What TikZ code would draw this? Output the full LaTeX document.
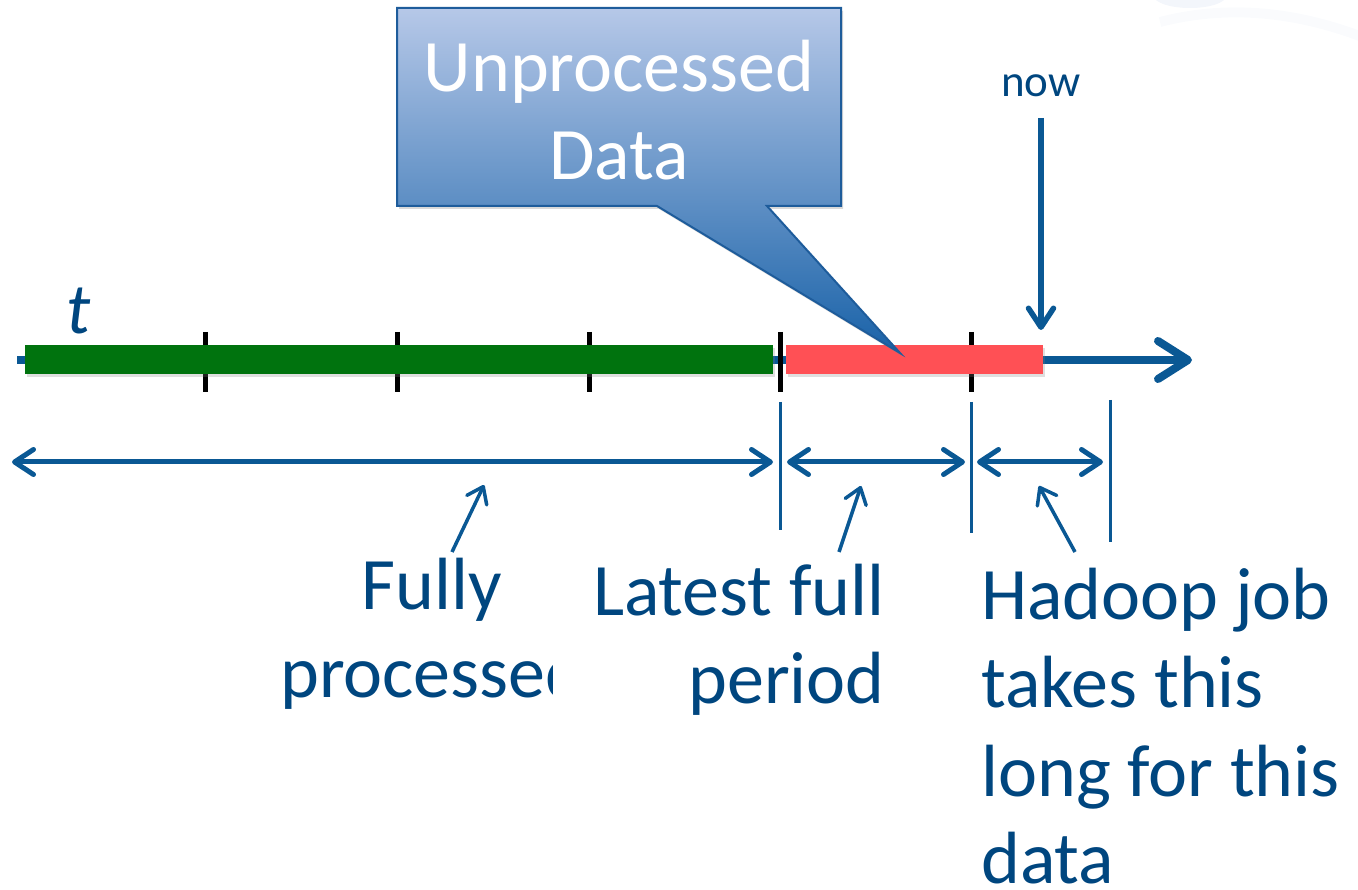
\documentclass[tikz,border=0pt]{standalone}
\usepackage{fontspec}
\setmainfont{Carlito}
\usetikzlibrary{arrows.meta,shadows}

\definecolor{textblue}{RGB}{0,70,127}
\definecolor{lineblue}{RGB}{10,88,148}
\definecolor{barGreen}{RGB}{0,115,14}
\definecolor{barRed}{RGB}{255,80,85}
\definecolor{calloutTop}{RGB}{182,200,232}
\definecolor{calloutBot}{RGB}{25,98,168}
\definecolor{calloutEdge}{RGB}{30,92,155}
\definecolor{haze}{RGB}{214,224,242}

\tikzset{
  label/.style={font=\fontsize{74}{88}\selectfont, text=textblue, inner sep=0pt},
  calltext/.style={font=\fontsize{74}{88}\selectfont, text=white, inner sep=0pt},
  smalllabel/.style={font=\fontsize{45}{54}\selectfont, text=textblue, inner sep=0pt},
  timeaxis/.style={line width=8pt, draw=lineblue, -{Straight Barb[length=30pt,width=38pt,round]}},
  tickmark/.style={line width=5pt, draw=black},
  spanarrow/.style={line width=5pt, draw=lineblue, {Straight Barb[length=19pt,width=25pt,round]}-{Straight Barb[length=19pt,width=25pt,round]}},
  nowarrow/.style={line width=5.5pt, draw=lineblue, -{Straight Barb[length=19pt,width=25pt,round]}},
  pointer/.style={line width=3.5pt, draw=lineblue, -{Straight Barb[length=15pt,width=22pt,round]}},
  boundary/.style={line width=3pt, draw=lineblue},
  barshadow/.style={drop shadow={opacity=0.25, shadow xshift=2pt, shadow yshift=-3pt}},
}

\begin{document}
\begin{tikzpicture}[x=1pt,y=-1pt]
\useasboundingbox (0,0) rectangle (1358,890);

% faint decoration in the upper right corner
\fill[haze, opacity=0.3] (1190,-4) ellipse [x radius=36, y radius=12];
\draw[haze, opacity=0.12, line width=10pt] (1160,22) .. controls (1230,4) and (1300,12) .. (1370,40);

% time axis
\coordinate (axisStart) at (17,360);
\coordinate (axisEnd) at (1192,360);
\draw[timeaxis] (axisStart) -- (axisEnd);

% period ticks (behind the bars)
\foreach \x in {205,397,589,780,971}
  \draw[tickmark] (\x,332) -- (\x,392);

% processed and unprocessed spans
\fill[barGreen, barshadow] (25,345) rectangle (773,374);
\fill[barRed, barshadow] (786,345) rectangle (1043,374);

% time label
\node[font=\fontsize{72}{80}\selectfont\itshape, text=textblue, inner sep=0pt, anchor=base west] (tlabel) at (66,334) {t};

% "now" marker
\node[smalllabel, anchor=base] (now) at (1041,97) {now};
\coordinate (nowTop) at (1041,118);
\coordinate (nowTip) at (1041,330);
\draw[nowarrow] (nowTop) -- (nowTip);

% boundaries of the measured spans
\coordinate (b1top) at (780,402);  \coordinate (b1bot) at (780,530);
\coordinate (b2top) at (971,402);  \coordinate (b2bot) at (971,533);
\coordinate (b3top) at (1110,400); \coordinate (b3bot) at (1110,542);
\draw[boundary] (b1top) -- (b1bot);
\draw[boundary] (b2top) -- (b2bot);
\draw[boundary] (b3top) -- (b3bot);

% span arrows
\coordinate (s1a) at (12,462);  \coordinate (s1b) at (773,462);
\coordinate (s2a) at (787,462); \coordinate (s2b) at (965,462);
\coordinate (s3a) at (977,462); \coordinate (s3b) at (1103,462);
\draw[spanarrow] (s1a) -- (s1b);
\draw[spanarrow] (s2a) -- (s2b);
\draw[spanarrow] (s3a) -- (s3b);

% pointers from the captions to the spans
\coordinate (p1tail) at (452,552);  \coordinate (p1tip) at (484,485);
\coordinate (p2tail) at (839,552);  \coordinate (p2tip) at (861,486);
\coordinate (p3tail) at (1075,552); \coordinate (p3tip) at (1039,486);
\draw[pointer] (p1tail) -- (p1tip);
\draw[pointer] (p2tail) -- (p2tip);
\draw[pointer] (p3tail) -- (p3tip);

% captions
\node[label, anchor=base] (fully1) at (432,609) {Fully};
\begin{scope}
  \clip (0,620) rectangle (552,730);
  \node[label, anchor=base west] (fully2) at (280,697) {processed};
\end{scope}

\node[label, anchor=base east] (latest1) at (885,615) {Latest full};
\node[label, anchor=base east] (latest2) at (885,703) {period};

\node[label, anchor=base west] (hadoop1) at (981,619) {Hadoop job};
\node[label, anchor=base west] (hadoop2) at (981,707) {takes this};
\node[label, anchor=base west] (hadoop3) at (981,796) {long for this};
\node[label, anchor=base west] (hadoop4) at (981,883) {data};

% callout pointing at the unprocessed span
\path[draw=calloutEdge, line width=2pt, line join=miter,
      top color=calloutTop, bottom color=calloutBot,
      drop shadow={opacity=0.3, shadow xshift=2pt, shadow yshift=-3pt}]
  (397,8) -- (841,8) -- (841,206) -- (767,206) -- (900,353) -- (657,206) -- (397,206) -- cycle;
\node[calltext, anchor=base] (call1) at (619,92) {Unprocessed};
\node[calltext, anchor=base] (call2) at (619,180) {Data};
\end{tikzpicture}
\end{document}
